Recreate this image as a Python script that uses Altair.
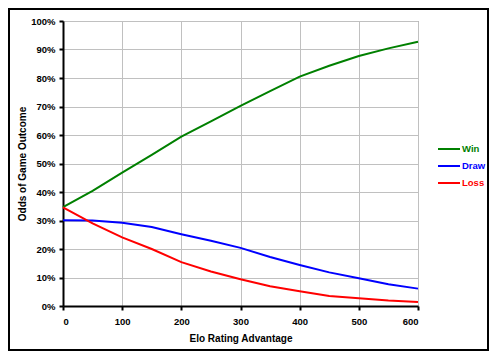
import altair as alt
import pandas as pd

elo = [0, 50, 100, 150, 200, 250, 300, 350, 400, 450, 500, 550, 600]
win = [34.7, 40.4, 46.8, 53.0, 59.4, 64.8, 70.2, 75.4, 80.5, 84.3, 87.7, 90.4, 92.7]
draw = [30.1, 30.0, 29.2, 27.7, 25.2, 22.9, 20.4, 17.2, 14.4, 11.8, 9.7, 7.6, 6.1]
loss = [34.6, 29.0, 24.1, 20.0, 15.4, 12.1, 9.4, 6.9, 5.2, 3.5, 2.7, 1.9, 1.4]
series = ["Win", "Draw", "Loss"]
colors = ["#008000", "#0000ff", "#ff0000"]
x_ticks = [0, 100, 200, 300, 400, 500, 600]
y_ticks = [i / 10 for i in range(11)]

rows = []
for name, vals in zip(series, [win, draw, loss]):
    for e, v in zip(elo, vals):
        rows.append({"elo": e, "odds": v / 100, "series": name})
df = pd.DataFrame(rows)

FONT = "Liberation Sans"

lines = alt.Chart(df).mark_line(strokeWidth=2).encode(
    x=alt.X("elo:Q", scale=alt.Scale(domain=[0, 600], nice=False),
            axis=alt.Axis(values=x_ticks, title="Elo Rating Advantage",
                          titleY=35, titleBaseline="alphabetic",
                          labelPadding=6)),
    y=alt.Y("odds:Q", scale=alt.Scale(domain=[0, 1], nice=False),
            axis=alt.Axis(values=y_ticks, format="%", title="Odds of Game Outcome",
                          titleX=-38, titleY=142.5, titleBaseline="alphabetic",
                          labelPadding=4)),
    color=alt.Color("series:N", scale=alt.Scale(domain=series, range=colors),
                    legend=alt.Legend(
                        title=None, orient="none", legendX=374, legendY=116,
                        symbolType="stroke", symbolSize=484, symbolStrokeWidth=2,
                        labelOffset=1, rowPadding=-7,
                        labelColor=alt.ExprRef(
                            "datum.label == 'Win' ? '#008000' : datum.label == 'Draw' ? '#0000ff' : '#ff0000'"),
                        labelFont=FONT, labelFontSize=9.5, labelFontWeight="bold")),
)

border = alt.Chart(pd.DataFrame({"a": [0]})).mark_rect(
    fillOpacity=0, stroke="black", strokeWidth=2
).encode(x=alt.value(-54), x2=alt.value(425), y=alt.value(-12), y2=alt.value(329))

chart = alt.layer(border, lines).properties(
    width=355, height=285,
    autosize=alt.AutoSizeParams(type="none"),
    padding={"left": 55, "top": 13, "right": 71, "bottom": 45},
    background="white",
).configure_view(
    stroke="#808080", strokeWidth=1
).configure_axis(
    labelFont=FONT, labelFontSize=9.5, labelFontWeight="bold", labelColor="black",
    titleFont=FONT, titleFontSize=10, titleFontWeight="bold", titleColor="black",
    domainColor="black", domainWidth=2,
    tickColor="black", tickWidth=2, tickSize=4,
    gridColor="#c0c0c0", gridWidth=1,
)

chart.save("out.html", embed_options={"renderer": "svg", "actions": False})
